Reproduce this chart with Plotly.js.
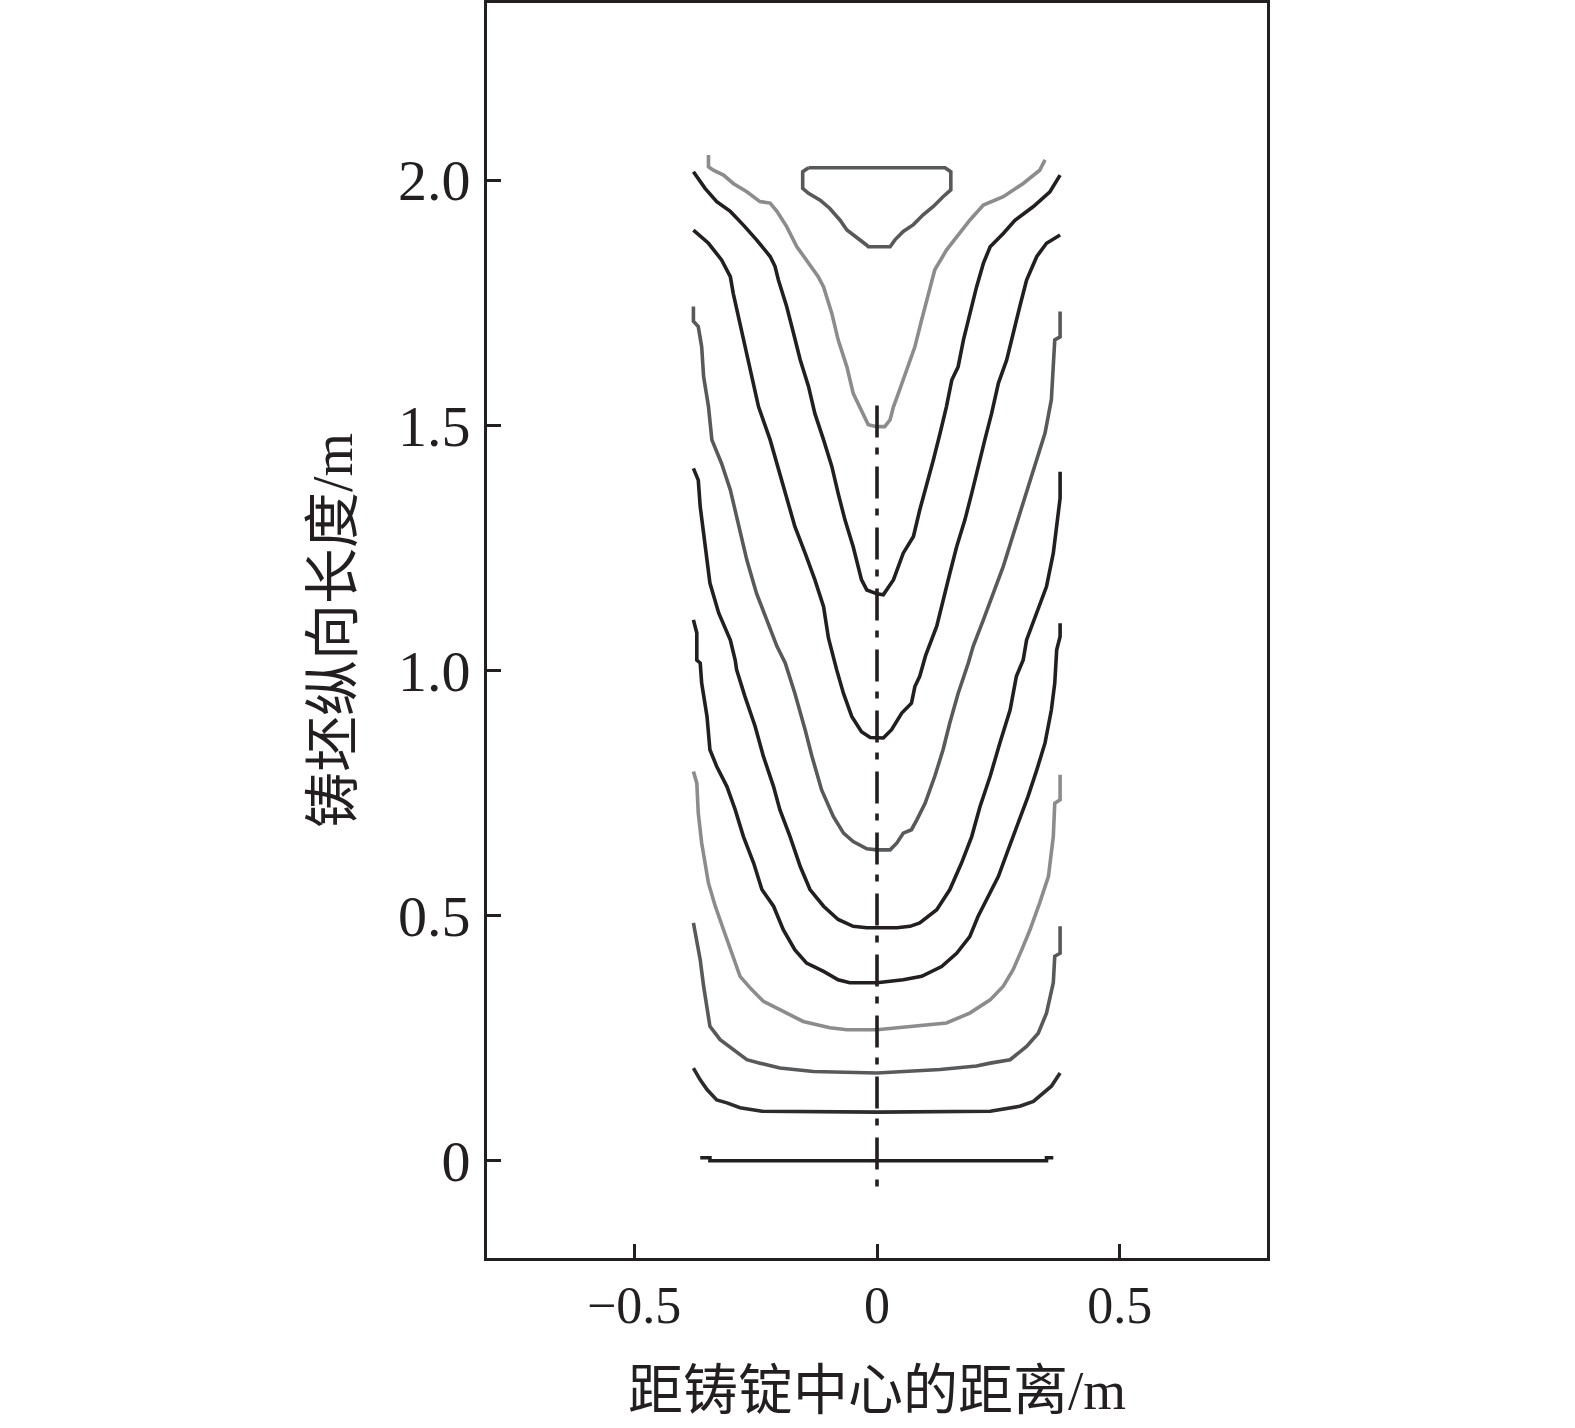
<!DOCTYPE html>
<html>
<head>
<meta charset="utf-8">
<script src="https://cdn.plot.ly/plotly-3.0.1.min.js"></script>
<style>
html,body{margin:0;padding:0;background:#fff;}
#chart{width:1575px;height:1428px;}
</style>
</head>
<body>
<div id="chart"></div>
<script>
// Axis tick values and labels
const xTickVals = [-0.5, 0, 0.5];
const xTickText = ["\u22120.5", "0", "0.5"];
const yTickVals = [0, 0.5, 1.0, 1.5, 2.0];
const yTickText = ["0", "0.5", "1.0", "1.5", "2.0"];

// Isoline 0 (bottom, black)
const line0X = [-0.364, -0.344, -0.344, 0, 0.349, 0.349, 0.363];
const line0Y = [0.006, 0.006, 0, 0, 0, 0.006, 0.006];

// Isoline 1 (black)
const line1X = [-0.378, -0.364, -0.350, -0.330, -0.309, -0.282, -0.237, 0, 0.233, 0.294, 0.322, 0.342, 0.359, 0.377];
const line1Y = [0.189, 0.165, 0.145, 0.124, 0.118, 0.108, 0.101, 0.099, 0.101, 0.111, 0.121, 0.138, 0.152, 0.179];

// Isoline 2 (dark grey)
const line2X = [-0.378, -0.374, -0.364, -0.357, -0.350, -0.344, -0.323, -0.296, -0.268, -0.241, -0.200, -0.131, 0,
                0.130, 0.205, 0.233, 0.274, 0.308, 0.332, 0.349, 0.363, 0.366, 0.377, 0.377];
const line2Y = [0.485, 0.464, 0.410, 0.356, 0.308, 0.274, 0.247, 0.226, 0.206, 0.199, 0.189, 0.182, 0.179,
                0.186, 0.193, 0.199, 0.206, 0.233, 0.260, 0.301, 0.363, 0.417, 0.423, 0.478];

// Isoline 3 (light grey)
const line3X = [-0.378, -0.371, -0.368, -0.361, -0.347, -0.333, -0.316, -0.299, -0.282, -0.258, -0.234, -0.200, -0.152, -0.097, -0.062, 0,
                0.075, 0.143, 0.191, 0.233, 0.260, 0.280, 0.298, 0.315, 0.335, 0.353, 0.363, 0.366, 0.377, 0.377];
const line3Y = [0.794, 0.770, 0.709, 0.648, 0.566, 0.519, 0.471, 0.424, 0.376, 0.349, 0.325, 0.308, 0.284, 0.271, 0.267, 0.267,
                0.274, 0.281, 0.301, 0.328, 0.356, 0.389, 0.430, 0.471, 0.526, 0.580, 0.661, 0.729, 0.736, 0.787];

// Isoline 4 (black)
const line4X = [-0.378, -0.371, -0.371, -0.364, -0.361, -0.350, -0.344, -0.330, -0.309, -0.292, -0.275, -0.254, -0.237, -0.213, -0.193, -0.169, -0.145, -0.110, -0.080, -0.056, 0,
                0.054, 0.092, 0.133, 0.164, 0.191, 0.208, 0.229, 0.250, 0.270, 0.291, 0.311, 0.329, 0.346, 0.359, 0.366, 0.370, 0.377, 0.377];
const line4Y = [1.103, 1.076, 1.021, 1.015, 0.974, 0.906, 0.838, 0.804, 0.763, 0.716, 0.661, 0.607, 0.553, 0.519, 0.471, 0.430, 0.403, 0.386, 0.369, 0.363, 0.363,
                0.369, 0.376, 0.396, 0.423, 0.457, 0.498, 0.539, 0.580, 0.634, 0.689, 0.743, 0.797, 0.852, 0.919, 0.974, 1.042, 1.069, 1.096];

// Isoline 5 (black)
const line5X = [-0.378, -0.368, -0.364, -0.357, -0.350, -0.344, -0.326, -0.302, -0.292, -0.289, -0.272, -0.251, -0.234, -0.213, -0.200, -0.179, -0.158, -0.138, -0.110, -0.080, -0.049, -0.021, 0,
                0.041, 0.068, 0.088, 0.123, 0.150, 0.174, 0.195, 0.212, 0.233, 0.253, 0.274, 0.287, 0.301, 0.308, 0.329, 0.349, 0.363, 0.370, 0.377, 0.377];
const line5Y = [1.412, 1.388, 1.334, 1.280, 1.225, 1.178, 1.117, 1.062, 1.021, 1.001, 0.947, 0.886, 0.825, 0.763, 0.716, 0.661, 0.600, 0.553, 0.519, 0.492, 0.478, 0.475, 0.475,
                0.475, 0.478, 0.485, 0.512, 0.553, 0.607, 0.661, 0.722, 0.784, 0.852, 0.919, 0.988, 1.021, 1.062, 1.117, 1.171, 1.239, 1.293, 1.351, 1.405];

// Isoline 6 (dark grey)
const line6X = [-0.378, -0.378, -0.368, -0.361, -0.357, -0.347, -0.340, -0.320, -0.302, -0.285, -0.268, -0.248, -0.227, -0.206, -0.189, -0.169, -0.148, -0.134, -0.114, -0.090, -0.069, -0.049, -0.021, 0,
                0.027, 0.041, 0.054, 0.071, 0.082, 0.099, 0.119, 0.136, 0.150, 0.167, 0.188, 0.198, 0.219, 0.240, 0.260, 0.277, 0.294, 0.311, 0.329, 0.346, 0.359, 0.363, 0.366, 0.377, 0.377];
const line6Y = [1.742, 1.712, 1.701, 1.660, 1.599, 1.538, 1.470, 1.422, 1.368, 1.300, 1.225, 1.157, 1.103, 1.049, 1.015, 0.953, 0.879, 0.825, 0.756, 0.702, 0.668, 0.651, 0.636, 0.634,
                0.634, 0.648, 0.668, 0.675, 0.695, 0.729, 0.784, 0.838, 0.893, 0.953, 1.015, 1.049, 1.103, 1.157, 1.212, 1.266, 1.320, 1.375, 1.429, 1.484, 1.552, 1.613, 1.674, 1.680, 1.732];

// Isoline 7 (black)
const line7X = [-0.378, -0.347, -0.320, -0.302, -0.296, -0.278, -0.261, -0.244, -0.220, -0.200, -0.186, -0.169, -0.148, -0.128, -0.110, -0.100, -0.083, -0.069, -0.052, -0.032, -0.014, 0,
                0.013, 0.030, 0.051, 0.071, 0.078, 0.088, 0.100, 0.123, 0.136, 0.150, 0.164, 0.181, 0.195, 0.208, 0.222, 0.236, 0.250, 0.267, 0.280, 0.294, 0.308, 0.329, 0.349, 0.377];
const line7Y = [1.898, 1.871, 1.837, 1.803, 1.769, 1.688, 1.613, 1.538, 1.470, 1.402, 1.348, 1.293, 1.239, 1.185, 1.130, 1.066, 1.001, 0.953, 0.906, 0.875, 0.863, 0.862,
                0.862, 0.879, 0.913, 0.933, 0.967, 0.988, 1.030, 1.090, 1.144, 1.198, 1.252, 1.307, 1.361, 1.416, 1.470, 1.524, 1.586, 1.633, 1.688, 1.742, 1.796, 1.844, 1.871, 1.888];

// Isoline 8 (black)
const line8X = [-0.378, -0.354, -0.330, -0.302, -0.275, -0.248, -0.220, -0.210, -0.203, -0.186, -0.172, -0.158, -0.141, -0.128, -0.110, -0.093, -0.080, -0.066, -0.049, -0.032, -0.021, 0,
                0.013, 0.034, 0.054, 0.075, 0.088, 0.102, 0.116, 0.130, 0.143, 0.154, 0.167, 0.178, 0.191, 0.205, 0.219, 0.233, 0.260, 0.284, 0.322, 0.356, 0.377];
const line8Y = [2.017, 1.983, 1.956, 1.936, 1.908, 1.878, 1.844, 1.824, 1.796, 1.742, 1.688, 1.633, 1.579, 1.524, 1.470, 1.416, 1.361, 1.307, 1.252, 1.185, 1.164, 1.156,
                1.154, 1.185, 1.239, 1.273, 1.327, 1.375, 1.429, 1.484, 1.538, 1.592, 1.619, 1.674, 1.728, 1.782, 1.830, 1.864, 1.891, 1.918, 1.946, 1.976, 2.010];

// Isoline 9 (light grey)
const line9X = [-0.347, -0.347, -0.337, -0.316, -0.296, -0.268, -0.241, -0.220, -0.206, -0.186, -0.165, -0.141, -0.121, -0.110, -0.093, -0.080, -0.062, -0.049, -0.025, -0.018, 0,
                0.016, 0.027, 0.034, 0.044, 0.061, 0.078, 0.092, 0.106, 0.119, 0.143, 0.164, 0.191, 0.219, 0.260, 0.301, 0.335, 0.346];
const line9Y = [2.051, 2.027, 2.020, 2.010, 1.993, 1.976, 1.956, 1.953, 1.936, 1.905, 1.864, 1.830, 1.803, 1.782, 1.728, 1.674, 1.619, 1.565, 1.517, 1.501, 1.497,
                1.497, 1.511, 1.538, 1.565, 1.613, 1.660, 1.715, 1.769, 1.817, 1.857, 1.884, 1.918, 1.949, 1.966, 1.993, 2.020, 2.041];

// Closed top isoline (dark grey)
const topLoopX = [-0.141, 0.140, 0.152, 0.152, 0.136, 0.116, 0.095, 0.075, 0.054, 0.037, 0.027, -0.018, -0.021, -0.042, -0.062, -0.076, -0.097, -0.117, -0.141, -0.153, -0.153, -0.141];
const topLoopY = [2.025, 2.025, 2.017, 1.980, 1.966, 1.946, 1.929, 1.909, 1.895, 1.878, 1.864, 1.864, 1.867, 1.884, 1.898, 1.918, 1.942, 1.959, 1.973, 1.983, 2.017, 2.025];

// Ingot centre line
const centreX = [0, 0];
const centreY = [1.54, -0.055];

const BLACK = '#231f20';
const DARK = '#58595b';
const LIGHT = '#8c8c8e';

const series = [
  [line0X, line0Y, BLACK],
  [line1X, line1Y, '#2e2b2c'],
  [line2X, line2Y, DARK],
  [line3X, line3Y, LIGHT],
  [line4X, line4Y, BLACK],
  [line5X, line5Y, BLACK],
  [line6X, line6Y, DARK],
  [line7X, line7Y, BLACK],
  [line8X, line8Y, BLACK],
  [line9X, line9Y, LIGHT],
  [topLoopX, topLoopY, DARK]
];

const traces = series.map(([x, y, c]) => ({
  type: 'scatter', mode: 'lines', x: x, y: y,
  line: {color: c, width: 3.6}, hoverinfo: 'skip', showlegend: false
}));

traces.push({
  type: 'scatter', mode: 'lines', x: centreX, y: centreY,
  line: {color: BLACK, width: 3.6, dash: '32px,10px,7px,12px'},
  hoverinfo: 'skip', showlegend: false
});

const serif = "'Liberation Serif', 'Times New Roman', serif";
const cjk = "'Liberation Serif', 'Noto Sans CJK SC', serif";

const layout = {
  width: 1575, height: 1428,
  margin: {l: 487, r: 308, t: 3, b: 170, pad: 0},
  paper_bgcolor: '#ffffff', plot_bgcolor: '#ffffff',
  showlegend: false,
  xaxis: {
    range: [-0.803, 0.803],
    tickvals: xTickVals, ticktext: xTickText,
    ticks: 'inside', ticklen: 14, tickwidth: 3, tickcolor: BLACK,
    showline: true, linewidth: 3, linecolor: BLACK, mirror: true,
    showgrid: false, zeroline: false,
    tickfont: {family: serif, size: 52, color: BLACK},
    ticklabelstandoff: 0,
    title: {text: '距铸锭中心的距离/m', font: {family: cjk, size: 55, color: BLACK}, standoff: 38}
  },
  yaxis: {
    range: [-0.1984, 2.361],
    tickvals: yTickVals, ticktext: yTickText,
    ticks: 'inside', ticklen: 14, tickwidth: 3, tickcolor: BLACK,
    showline: true, linewidth: 3, linecolor: BLACK, mirror: true,
    showgrid: false, zeroline: false,
    tickfont: {family: serif, size: 58, color: BLACK},
    ticklabelstandoff: 2,
    title: {text: '铸坯纵向长度/m', font: {family: cjk, size: 56, color: BLACK}, standoff: 28}
  }
};

Plotly.newPlot('chart', traces, layout, {displayModeBar: false, staticPlot: true});
</script>
</body>
</html>
